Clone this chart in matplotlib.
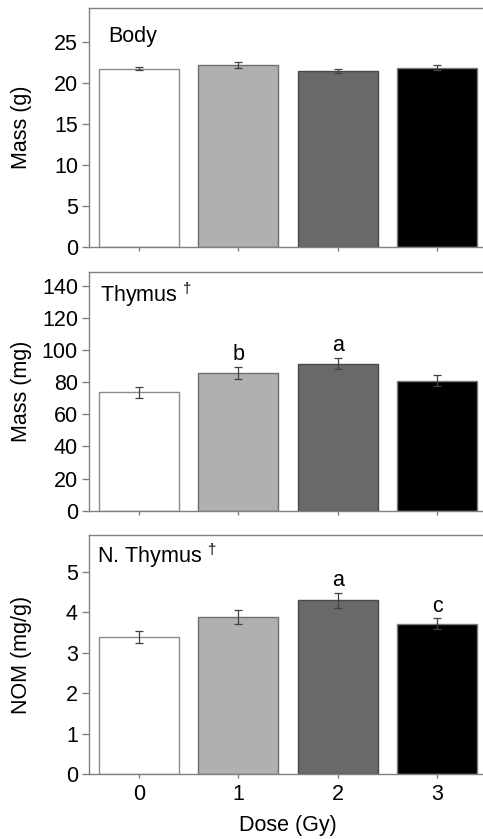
import matplotlib
matplotlib.use("Agg")
import matplotlib.pyplot as plt

plt.rcParams['font.family'] = ['Liberation Sans', 'DejaVu Sans']
plt.rcParams['mathtext.fontset'] = 'custom'
plt.rcParams['mathtext.rm'] = 'Liberation Sans'

doses = [0, 1, 2, 3]
dose_labels = ["0", "1", "2", "3"]
bar_colors = ["#ffffff", "#b0b0b0", "#696969", "#000000"]
edge_colors = ["#8c8c8c", "#6e6e6e", "#4a4a4a", "#7a7a7a"]

body_mass = [21.7, 22.2, 21.4, 21.8]
body_err = [0.2, 0.35, 0.25, 0.3]

thymus_mass = [73.8, 85.8, 91.6, 81.0]
thymus_err = [3.4, 3.8, 3.6, 3.4]
thymus_letters = ["", "b", "a", ""]

nom = [3.40, 3.89, 4.30, 3.72]
nom_err = [0.15, 0.18, 0.18, 0.13]
nom_letters = ["", "", "a", "c"]

W, H = 483, 839
FS = 15.5
fig = plt.figure(figsize=(W / 100, H / 100), dpi=100)

def axes_box(top_px, bottom_px):
    left = 89 / W
    width = 398 / W
    return [left, 1 - bottom_px / H, width, (bottom_px - top_px) / H]

panels = [
    dict(box=(8, 247), vals=body_mass, errs=body_err, ylim=29.1,
         yticks=[0, 5, 10, 15, 20, 25], ylabel="Mass (g)", title="Body",
         letters=["", "", "", ""], tx=108, ty=0.858),
    dict(box=(271.7, 510.7), vals=thymus_mass, errs=thymus_err, ylim=148.9,
         yticks=[0, 20, 40, 60, 80, 100, 120, 140], ylabel="Mass (mg)",
         title="Thymus $^{\u2020}$", letters=thymus_letters, tx=100, ty=0.874),
    dict(box=(534.7, 774.3), vals=nom, errs=nom_err, ylim=5.92,
         yticks=[0, 1, 2, 3, 4, 5], ylabel="NOM (mg/g)",
         title="N. Thymus $^{\u2020}$", letters=nom_letters, tx=97, ty=0.881),
]

spine_col = "#808080"
for i, p in enumerate(panels):
    ax = fig.add_axes(axes_box(*p["box"]))
    ax.bar(doses, p["vals"], width=0.8, color=bar_colors,
           edgecolor=edge_colors, linewidth=1.0, zorder=2)
    ax.errorbar(doses, p["vals"], yerr=p["errs"], fmt="none",
                ecolor="#404040", elinewidth=0.9, capsize=3, capthick=0.9,
                zorder=3)
    ax.set_xlim(-0.5, 3.5)
    ax.set_ylim(0, p["ylim"])
    ax.set_yticks(p["yticks"])
    ax.set_xticks(doses)
    if i == 2:
        ax.set_xticklabels(dose_labels)
        ax.set_xlabel("Dose (Gy)", fontsize=FS, labelpad=7)
    else:
        ax.set_xticklabels([])
    for s in ax.spines.values():
        s.set_color(spine_col)
        s.set_linewidth(1.0)
    ax.tick_params(axis="y", direction="out", length=5, width=1,
                   color=spine_col, labelsize=FS, pad=3)
    ax.tick_params(axis="x", direction="out", length=3, width=1,
                   color=spine_col, labelsize=FS, pad=4)
    ax.set_ylabel(p["ylabel"], fontsize=FS)
    ax.yaxis.set_label_coords(-0.143, 0.5)
    ax.text((p["tx"] - 89) / 398, p["ty"], p["title"],
            transform=ax.transAxes, fontsize=FS, ha="left", va="baseline")
    for x, v, e, lt in zip(doses, p["vals"], p["errs"], p["letters"]):
        if lt:
            ax.annotate(lt, (x, v + e), xytext=(0, 5),
                        textcoords="offset points", ha="center",
                        va="baseline", fontsize=FS)

fig.savefig("out.png", dpi=100)
